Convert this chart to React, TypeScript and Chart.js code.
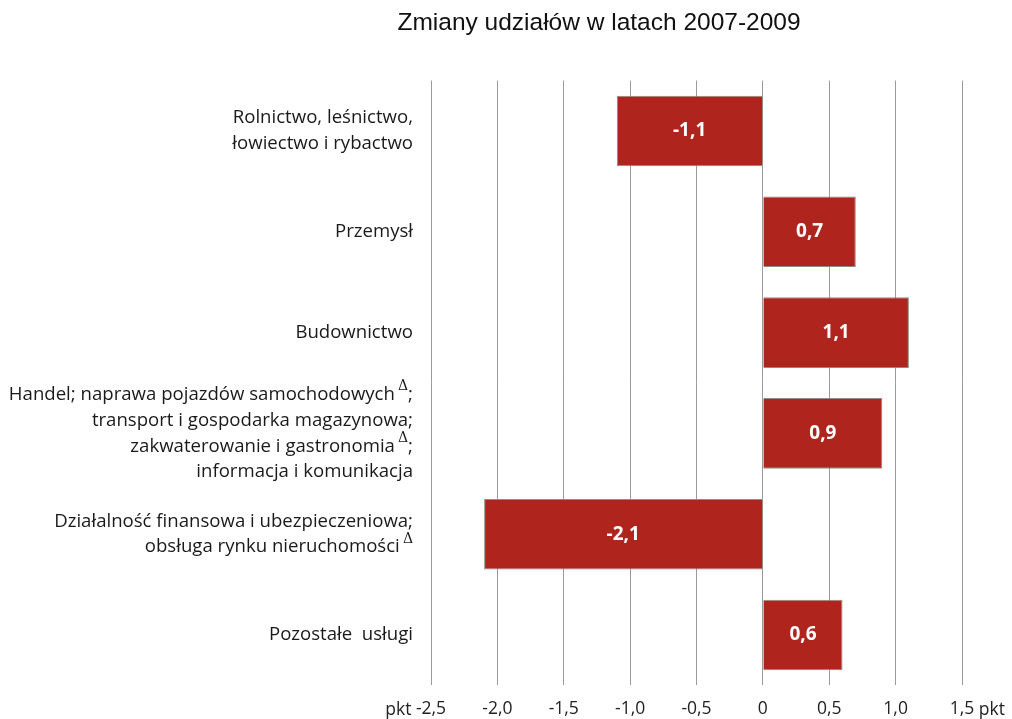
import React, { useEffect, useRef } from "react";
import { Chart, registerables } from "chart.js";

Chart.register(...registerables);

const title = "Zmiany udziałów w latach 2007-2009";
const categoryLines: string[][] = [
  ["Rolnictwo, leśnictwo,", "łowiectwo i rybactwo"],
  ["Przemysł"],
  ["Budownictwo"],
  [
    "Handel; naprawa pojazdów samochodowych\u2009Δ;",
    "transport i gospodarka magazynowa;",
    "zakwaterowanie i gastronomia\u2009Δ;",
    "informacja i komunikacja",
  ],
  ["Działalność finansowa i ubezpieczeniowa;", "obsługa rynku nieruchomości\u2009Δ"],
  ["Pozostałe  usługi"],
];
const values = [-1.1, 0.7, 1.1, 0.9, -2.1, 0.6];
const xMin = -2.5;
const xMax = 1.5;
const xStep = 0.5;
const unit = "pkt";

const fmt = (v: number) => (Math.abs(v) < 1e-9 ? "0" : v.toFixed(1).replace(".", ","));

const LABEL_FONT = "18.6px 'Open Sans'";
const SUP_FONT = "14px 'DejaVu Serif'";
const TICK_SIZE = 17.5;

const overlayPlugin = {
  id: "overlay",
  afterDraw(chart: any) {
    const ctx = chart.ctx as CanvasRenderingContext2D;
    const y = chart.scales.y;
    const x = chart.scales.x;
    ctx.save();
    // title
    ctx.fillStyle = "#111";
    ctx.font = "24.5px 'Liberation Sans'";
    ctx.textAlign = "center";
    ctx.textBaseline = "middle";
    ctx.fillText(title, 599, 23);

    // category labels
    const right = chart.chartArea.left - 18;
    const lh = 25.8;
    ctx.textBaseline = "middle";
    ctx.textAlign = "left";
    categoryLines.forEach((lines, i) => {
      const cy = y.getPixelForValue(i);
      const y0 = cy - ((lines.length - 1) / 2) * lh;
      lines.forEach((line, j) => {
        const ly = y0 + j * lh;
        const parts = line.split("Δ");
        let total = 0;
        parts.forEach((p, k) => {
          ctx.font = LABEL_FONT;
          total += ctx.measureText(p).width;
          if (k < parts.length - 1) {
            ctx.font = SUP_FONT;
            total += ctx.measureText("Δ").width;
          }
        });
        let cx = right - total;
        parts.forEach((p, k) => {
          ctx.font = LABEL_FONT;
          ctx.fillStyle = "#1a1a1a";
          ctx.fillText(p, cx, ly);
          cx += ctx.measureText(p).width;
          if (k < parts.length - 1) {
            ctx.font = SUP_FONT;
            ctx.fillText("Δ", cx, ly - 8);
            cx += ctx.measureText("Δ").width;
          }
        });
      });
    });

    // unit labels next to first and last tick
    const ticks = x.ticks;
    if (ticks.length) {
      ctx.font = `${TICK_SIZE}px 'Open Sans'`;
      ctx.fillStyle = "#222";
      ctx.textBaseline = "middle";
      const ty = chart.chartArea.bottom + 24.5;
      const first = ticks[0].value;
      const last = ticks[ticks.length - 1].value;
      const fx = x.getPixelForValue(first);
      const fw = ctx.measureText(fmt(first)).width;
      ctx.textAlign = "right";
      ctx.fillText(unit + " ", fx - fw / 2, ty);
      const lx = x.getPixelForValue(last);
      const lw = ctx.measureText(fmt(last)).width;
      ctx.textAlign = "left";
      ctx.fillText(" " + unit, lx + lw / 2, ty);
    }
    ctx.restore();
  },
  afterDatasetsDraw(chart: any) {
    const ctx = chart.ctx as CanvasRenderingContext2D;
    const meta = chart.getDatasetMeta(0);
    ctx.save();
    ctx.font = "bold 19px 'Open Sans'";
    ctx.fillStyle = "#ffffff";
    ctx.textAlign = "center";
    ctx.textBaseline = "middle";
    meta.data.forEach((bar: any, i: number) => {
      const cx = (bar.x + bar.base) / 2;
      ctx.fillText(fmt(values[i]), cx, bar.y);
    });
    ctx.restore();
  },
};

export default function App() {
  const ref = useRef<HTMLCanvasElement>(null);
  useEffect(() => {
    if (!ref.current) return;
    const chart = new Chart(ref.current, {
      type: "bar",
      data: {
        labels: categoryLines.map((l) => l.join(" ")),
        datasets: [
          {
            data: values,
            backgroundColor: "#AF251E",
            borderColor: "#8c8c8c",
            borderWidth: 1,
            categoryPercentage: 1,
            barPercentage: 0.7,
          },
        ],
      },
      options: {
        indexAxis: "y",
        responsive: false,
        animation: false,
        layout: { padding: { top: 80.6, right: 50, left: 0, bottom: 0 } },
        plugins: {
          legend: { display: false },
          title: { display: false },
          tooltip: { enabled: false },
        },
        scales: {
          x: {
            min: xMin,
            max: xMax,
            grid: { color: "#9a9a9a", drawTicks: false, lineWidth: 1 },
            border: { display: false },
            ticks: {
              stepSize: xStep,
              padding: 13.5,
              color: "#222",
              font: { family: "'Open Sans'", size: TICK_SIZE },
              callback: (v: any) => fmt(Number(v)),
            },
            afterFit: (s: any) => {
              s.height = 33.6;
            },
          },
          y: {
            grid: { display: false },
            border: { display: false },
            ticks: { display: false },
            afterFit: (s: any) => {
              s.width = 431;
            },
          },
        },
      },
      plugins: [overlayPlugin],
    });
    return () => chart.destroy();
  }, []);
  return (
    <div style={{ position: "absolute", left: 0, top: 0, width: 1012, height: 719, background: "#fff" }}>
      <canvas ref={ref} width={1012} height={719} />
    </div>
  );
}
